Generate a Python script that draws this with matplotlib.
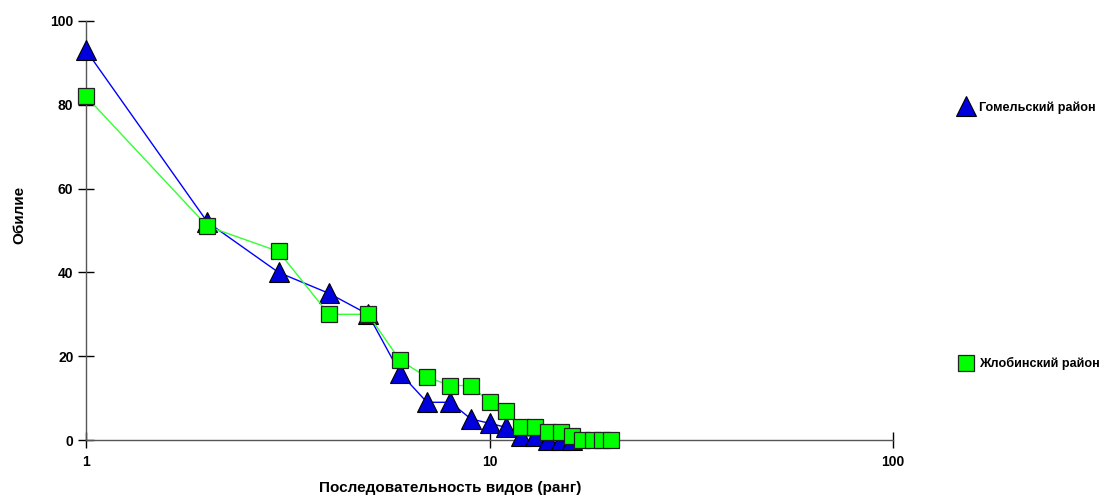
import matplotlib
matplotlib.use("Agg")
import matplotlib.pyplot as plt
from matplotlib.ticker import FixedLocator, NullLocator

plt.rcParams['font.family'] = ['Liberation Sans', 'DejaVu Sans']
plt.rcParams['font.weight'] = 'bold'

# Данные рангового распределения
gomel_rank = list(range(1, 17))
gomel_abund = [93, 52, 40, 35, 30, 16, 9, 9, 5, 4, 3, 1, 1, 0, 0, 0]

zhlobin_rank = list(range(1, 21))
zhlobin_abund = [82, 51, 45, 30, 30, 19, 15, 13, 13, 9, 7, 3, 3, 2, 2, 1, 0, 0, 0, 0]

x_ticks = [1, 10, 100]
y_ticks = [0, 20, 40, 60, 80, 100]

W, H = 1105, 498
fig = plt.figure(figsize=(W / 100, H / 100), dpi=100)
ax = fig.add_axes([86 / W, 1 - 440 / H, (893 - 86) / W, (440 - 21) / H])

tri_style = dict(marker='^', ms=14, mfc='#0000dd', mec='black', mew=0.8)
sq_style = dict(marker='s', ms=12, mfc='#00ff00', mec='#222222', mew=0.9)

ax.plot(gomel_rank, gomel_abund, color='#0000ff', lw=1.0, clip_on=False, zorder=3,
        label='Гомельский район', **tri_style)
ax.plot(zhlobin_rank, zhlobin_abund, color='#33ff33', lw=1.0, clip_on=False, zorder=4,
        label='Жлобинский район', **sq_style)

ax.set_xscale('log')
ax.set_xlim(1, 100)
ax.set_ylim(0, 100)
ax.xaxis.set_major_locator(FixedLocator(x_ticks))
ax.xaxis.set_minor_locator(NullLocator())
ax.set_xticklabels([str(t) for t in x_ticks])
ax.set_yticks(y_ticks)

for side in ['top', 'right']:
    ax.spines[side].set_visible(False)
for side in ['left', 'bottom']:
    ax.spines[side].set_color('#555555')
    ax.spines[side].set_linewidth(1.0)

ax.tick_params(axis='both', direction='inout', length=12, width=1, color='black',
               labelsize=10, pad=3)
ax.tick_params(axis='x', pad=5)

# Подписи осей
fig.text(450 / W, 1 - 488 / H, 'Последовательность видов (ранг)', fontsize=11,
         fontweight='bold', ha='center', va='center')
fig.text(19 / W, 1 - 215 / H, 'Обилие', fontsize=11, fontweight='bold',
         ha='center', va='center', rotation=90)

# Легенда справа, элементы разнесены по вертикали
fig.text(979 / W, 1 - 108 / H, 'Гомельский район', fontsize=9.1, fontweight='bold', va='center')
fig.text(979 / W, 1 - 363 / H, 'Жлобинский район', fontsize=9.1, fontweight='bold', va='center')
fig.lines.append(plt.Line2D([966 / W], [1 - 106 / H], transform=fig.transFigure,
                            ls='none', **tri_style))
fig.lines.append(plt.Line2D([966 / W], [1 - 363 / H], transform=fig.transFigure,
                            ls='none', **sq_style))

fig.savefig('out.png', dpi=100)
